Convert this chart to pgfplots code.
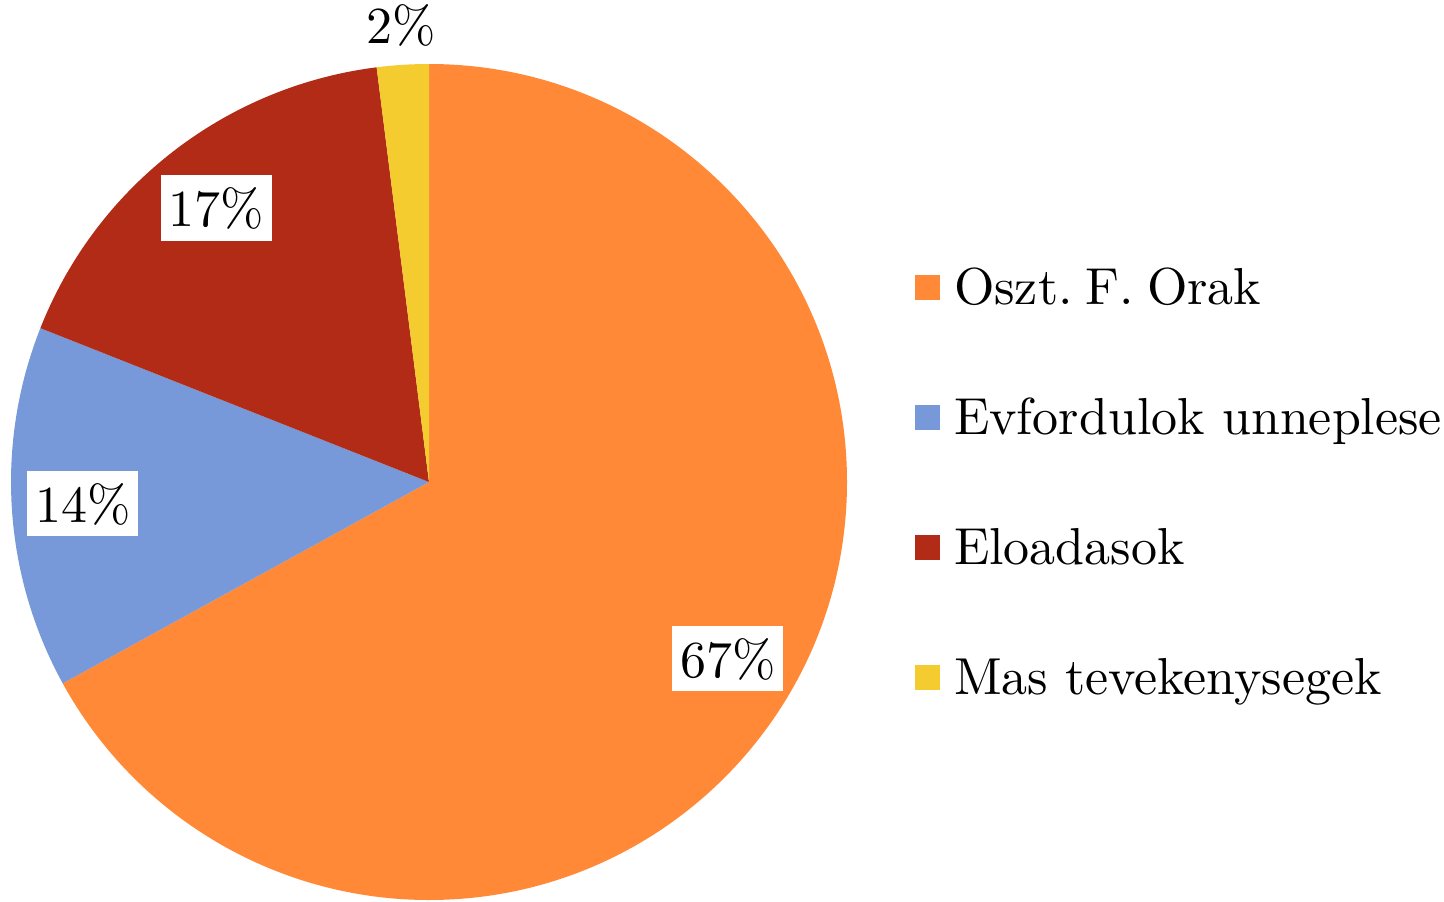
\documentclass[border=0pt]{standalone}
\usepackage{fontspec}
\setmainfont{lmroman10}[Extension=.otf, UprightFont=*-regular, BoldFont=*-bold, ItalicFont=*-italic]
\usepackage{pgfplots}
\pgfplotsset{compat=1.18}
\frenchspacing
\definecolor{cOrange}{RGB}{255,137,55}
\definecolor{cBlue}{RGB}{119,153,217}
\definecolor{cRed}{RGB}{178,43,22}
\definecolor{cYellow}{RGB}{245,204,48}
% data (percent)
\def\vA{67}\def\vB{14}\def\vC{17}\def\vD{2}
\pgfmathsetmacro\aA{90}
\pgfmathsetmacro\aB{\aA-3.6*\vA}
\pgfmathsetmacro\aC{\aB-3.6*\vB}
\pgfmathsetmacro\aD{\aC-3.6*\vC}
\pgfmathsetmacro\aE{\aD-3.6*\vD}
\pgfmathsetmacro\mA{(\aA+\aB)/2}
\pgfmathsetmacro\mB{(\aB+\aC)/2}
\pgfmathsetmacro\mC{(\aC+\aD)/2}
\pgfmathsetmacro\mD{(\aD+\aE)/2}
\newcommand\bigfont{\fontsize{26}{30}\selectfont\frenchspacing}
\tikzset{lab/.style={fill=white, font=\bigfont, inner xsep=3.8pt, inner ysep=0pt, text height=25.7pt, text depth=7pt}}
\begin{document}
\begin{tikzpicture}
\begin{axis}[
  scale only axis, width=722pt, height=450.5pt,
  xmin=0, xmax=1444, ymin=0, ymax=901,
  hide axis, clip=false,
  legend style={at={(axis cs:915,641)}, anchor=north west, draw=none, fill=none,
    inner sep=0pt, outer sep=0pt, font=\bigfont, row sep=33pt, column sep=0pt,
    cells={anchor=base west},
    nodes={inner xsep=7pt, inner ysep=4pt, text height=18pt, text depth=6pt}},
  legend image code/.code={\fill[#1] (0pt,2pt) rectangle (12.5pt,14.5pt);},
]
\addlegendimage{draw=none, fill=cOrange}
\addlegendimage{draw=none, fill=cBlue}
\addlegendimage{draw=none, fill=cRed}
\addlegendimage{draw=none, fill=cYellow}
\fill[cOrange] (axis cs:429,419) -- ++(\aA:209pt) arc[start angle=\aA, end angle=\aB, radius=209pt] -- cycle;
\fill[cBlue] (axis cs:429,419) -- ++(\aB:209pt) arc[start angle=\aB, end angle=\aC, radius=209pt] -- cycle;
\fill[cRed] (axis cs:429,419) -- ++(\aC:209pt) arc[start angle=\aC, end angle=\aD, radius=209pt] -- cycle;
\fill[cYellow] (axis cs:429,419) -- ++(\aD:209pt) arc[start angle=\aD, end angle=\aE, radius=209pt] -- cycle;
\path (axis cs:429,419) ++(\mA:173.5pt) node[lab]{\vA\%};
\path (axis cs:429,419) ++(\mB:173.5pt) node[lab]{\vB\%};
\path (axis cs:429,419) ++(\mC:173.5pt) node[lab]{\vC\%};
\path (axis cs:429,419) ++(\mD:219.5pt) node[anchor=base, font=\bigfont, inner sep=0pt]{\vD\%};
\legend{Oszt.\hspace{0.25em}F.\hspace{0.25em}Orak, Evfordulok unneplese, Eloadasok, Mas tevekenysegek}
\end{axis}
\pgfresetboundingbox
\useasboundingbox (current axis.south west) rectangle (current axis.north east);
\end{tikzpicture}
\end{document}
